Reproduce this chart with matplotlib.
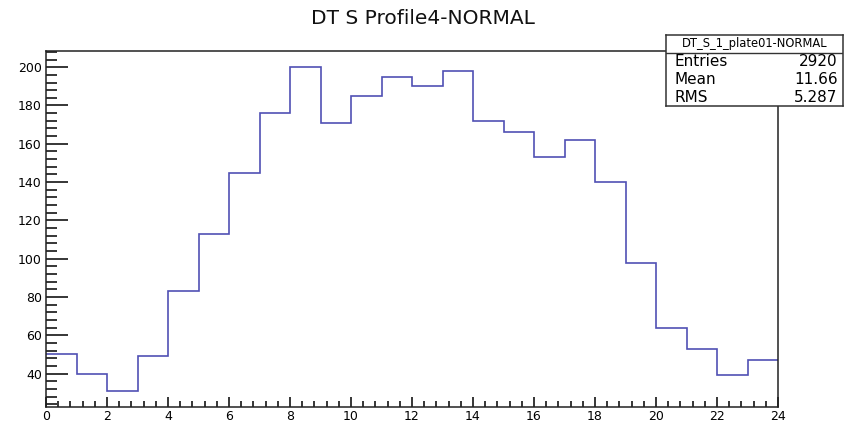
import matplotlib.pyplot as plt
import numpy as np
from matplotlib.ticker import MultipleLocator

plt.rcParams['font.family'] = ['DejaVu Sans']

# per-hour counts, 24 bins of width 1
edges = np.arange(0, 25)
counts = [50, 40, 31, 49, 83, 113, 145, 176, 200, 171, 185, 195,
          190, 198, 172, 166, 153, 162, 140, 98, 64, 53, 39, 47]
hname = 'DT_S_1_plate01-NORMAL'
titulo = 'DT S Profile4-NORMAL'
entries = 2920
mean = 11.66
rms = 5.287

fig = plt.figure(figsize=(8.46, 4.25), dpi=100)
ax = fig.add_axes([46/846, 18/425, 732/846, 356/425])

ax.stairs(counts, edges, color='#5050b4', linewidth=1.2, baseline=None)

# margens estilo ROOT no eixo y
cmin, cmax = min(counts), max(counts)
ax.set_xlim(0, 24)
ax.set_ylim(cmin - 0.05*(cmax - cmin), cmax + 0.05*(cmax - cmin))

ax.xaxis.set_major_locator(MultipleLocator(2))
ax.xaxis.set_minor_locator(MultipleLocator(0.4))
ax.yaxis.set_major_locator(MultipleLocator(20))
ax.yaxis.set_minor_locator(MultipleLocator(4))
ax.tick_params(axis='y', which='major', direction='in', length=15.5, width=1.1, labelsize=9, pad=3)
ax.tick_params(axis='y', which='minor', direction='in', length=8, width=1.1)
ax.tick_params(axis='x', which='major', direction='in', length=7.5, width=1.1, labelsize=9, pad=2)
ax.tick_params(axis='x', which='minor', direction='in', length=4, width=1.1)
for s in ax.spines.values():
    s.set_linewidth(1.1)
    s.set_color('#222222')

fig.text(0.5, 1 - 18/425, titulo, ha='center', va='center', fontsize=14.5, color='#111111')

# caixa de estatisticas
sb = fig.add_axes([666/846, 1 - 106/425, 177/846, 71/425])
sb.set_xlim(0, 1)
sb.set_ylim(0, 1)
sb.set_xticks([])
sb.set_yticks([])
for s in sb.spines.values():
    s.set_linewidth(1.1)
    s.set_color('#333333')
sep = (106 - 53) / 71
sb.axhline(sep, color='#333333', linewidth=1.0)
sb.text(0.5, (sep + 1) / 2, hname, ha='center', va='center', fontsize=8.3)
rows = [('Entries', f'{entries}'), ('Mean', f'{mean:.2f}'), ('RMS', f'{rms:.3f}')]
for i, (nome, val) in enumerate(rows):
    y = sep * (5 - 2*i) / 6
    sb.text(0.05, y, nome, ha='left', va='center', fontsize=11)
    sb.text(0.97, y, val, ha='right', va='center', fontsize=11)

plt.savefig('out.png', dpi=100)
